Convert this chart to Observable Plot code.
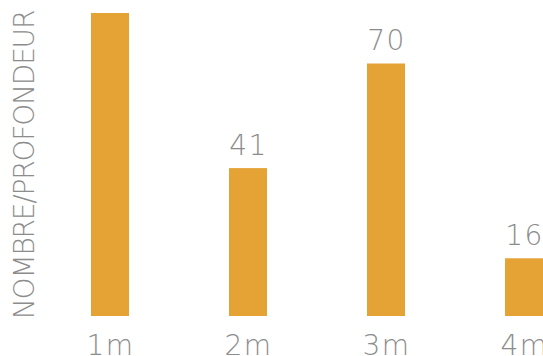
<!DOCTYPE html>
<html>
<head>
<meta charset="utf-8">
<script src="https://cdn.jsdelivr.net/npm/d3@7"></script>
<script src="https://cdn.jsdelivr.net/npm/@observablehq/plot@0.6"></script>
<style>
  html, body { margin: 0; padding: 0; background: #fff; }
  #chart svg { display: block; }
</style>
</head>
<body>
<div id="chart"></div>
<script>
const depths = ["1m", "2m", "3m", "4m"];
const counts = [84, 41, 70, 16];
const yLabel = "NOMBRE/PROFONDEUR";

const data = depths.map((d, i) => ({depth: d, count: counts[i]}));
const font = "'DejaVu Sans', sans-serif";
const textColor = "#8c8c8c";

const chart = Plot.plot({
  width: 543,
  height: 356,
  marginLeft: 90,
  marginRight: 0,
  marginTop: 13,
  marginBottom: 40,
  style: {fontFamily: font, background: "#fff", overflow: "hidden", letterSpacing: "1.5px"},
  x: {domain: depths, paddingInner: 0.726, paddingOuter: 0, label: null},
  y: {domain: [0, 84], axis: null},
  marks: [
    Plot.barY(data, {x: "depth", y: "count", fill: "#E5A235"}),
    Plot.text(data, {x: "depth", y: "count", text: d => String(d.count), dy: -23,
      fontSize: 28, fontWeight: 200, fill: textColor, lineAnchor: "middle"}),
    Plot.axisX({tickSize: 0, tickPadding: 19, fontSize: 28, fontWeight: 200, color: textColor, label: null}),
    Plot.text([yLabel], {frameAnchor: "left", textAnchor: "middle", rotate: -90, dx: -65, fontSize: 28, fontWeight: 200,
      fill: textColor, lineAnchor: "middle"})
  ]
});
d3.select(chart).selectAll("text").filter(function() { return this.textContent === yLabel; })
  .style("letter-spacing", "-1.2px");
document.getElementById("chart").appendChild(chart);
</script>
</body>
</html>
